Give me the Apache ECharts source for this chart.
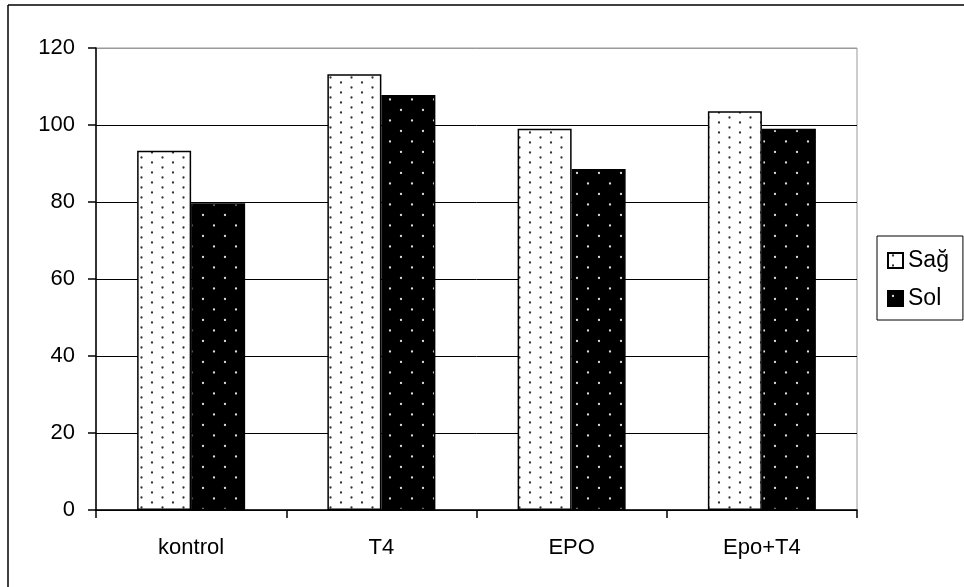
<!DOCTYPE html>
<html>
<head>
<meta charset="utf-8">
<script src="https://cdn.jsdelivr.net/npm/echarts@6/dist/echarts.min.js"></script>
<style>html,body{margin:0;padding:0;background:#fff;}#c{width:964px;height:587px;}</style>
</head>
<body>
<div id="c"></div>
<script>
const categories = ['kontrol', 'T4', 'EPO', 'Epo+T4'];
const sagValues = [93.3, 113.2, 99.0, 103.6];
const solValues = [79.7, 107.8, 88.6, 99.0];
const seriesNames = ['Sağ', 'Sol'];
const yTicks = [0, 20, 40, 60, 80, 100, 120];

function makePattern(w, h, bg, dot, pts, r) {
  const c = document.createElement('canvas');
  c.width = w; c.height = h;
  const g = c.getContext('2d');
  g.fillStyle = bg; g.fillRect(0, 0, w, h);
  g.fillStyle = dot;
  pts.forEach(p => { g.beginPath(); g.arc(p[0], p[1], r, 0, Math.PI * 2); g.fill(); });
  return { image: c, repeat: 'repeat' };
}
const sagFill = makePattern(21, 10, '#fff', '#333', [[5, 2.5], [15.5, 7.5]], 1.15);
const solFill = makePattern(22, 21, '#000', '#ddd', [[5, 5], [16, 15.5]], 1.15);

const font = 'Liberation Sans, Arial, sans-serif';
const chart = echarts.init(document.getElementById('c'), null, { renderer: 'canvas' });
chart.setOption({
  animation: false,
  backgroundColor: '#fff',
  grid: { left: 96, right: 107, top: 48, bottom: 77, show: true, borderColor: '#999', borderWidth: 1, backgroundColor: 'transparent' },
  legend: {
    orient: 'vertical', left: 877, top: 236,
    padding: [13, 14, 10, 10], itemGap: 15, itemWidth: 15, itemHeight: 15,
    borderColor: '#000', borderWidth: 1, backgroundColor: '#fff',
    textStyle: { fontFamily: font, fontSize: 23, color: '#000' },
    data: [{ name: seriesNames[0], icon: 'rect' }, { name: seriesNames[1], icon: 'rect' }]
  },
  xAxis: {
    type: 'category', data: categories,
    axisLine: { lineStyle: { color: '#000', width: 1.5 } },
    axisTick: { show: true, length: 8, lineStyle: { color: '#000', width: 1.5 } },
    axisLabel: { fontFamily: font, fontSize: 22, color: '#000', margin: 27 },
    splitLine: { show: false }
  },
  yAxis: {
    type: 'value', min: 0, max: 120, interval: 20,
    axisLine: { show: true, lineStyle: { color: '#000', width: 1.5 } },
    axisTick: { show: true, length: 8, lineStyle: { color: '#000', width: 1.5 } },
    axisLabel: { fontFamily: font, fontSize: 22, color: '#000', margin: 21,
      formatter: v => (yTicks.indexOf(v) >= 0 ? String(v) : '') },
    splitLine: { show: true, lineStyle: { color: ['#000', '#000', '#000', '#000', '#000', '#000', '#999'], width: 1 } }
  },
  series: [
    { name: seriesNames[0], type: 'bar', data: sagValues, barWidth: 54, barGap: '0%',
      itemStyle: { color: sagFill, borderColor: '#000', borderWidth: 1.5 } },
    { name: seriesNames[1], type: 'bar', data: solValues, barWidth: 54, barGap: '0%',
      itemStyle: { color: solFill, borderColor: '#000', borderWidth: 1.5 } }
  ],
  graphic: [
    { type: 'line', shape: { x1: 8, y1: 5, x2: 964, y2: 5 }, style: { stroke: '#000', lineWidth: 1.5 } },
    { type: 'line', shape: { x1: 8, y1: 5, x2: 8, y2: 587 }, style: { stroke: '#000', lineWidth: 1.5 } }
  ]
});
</script>
</body>
</html>
